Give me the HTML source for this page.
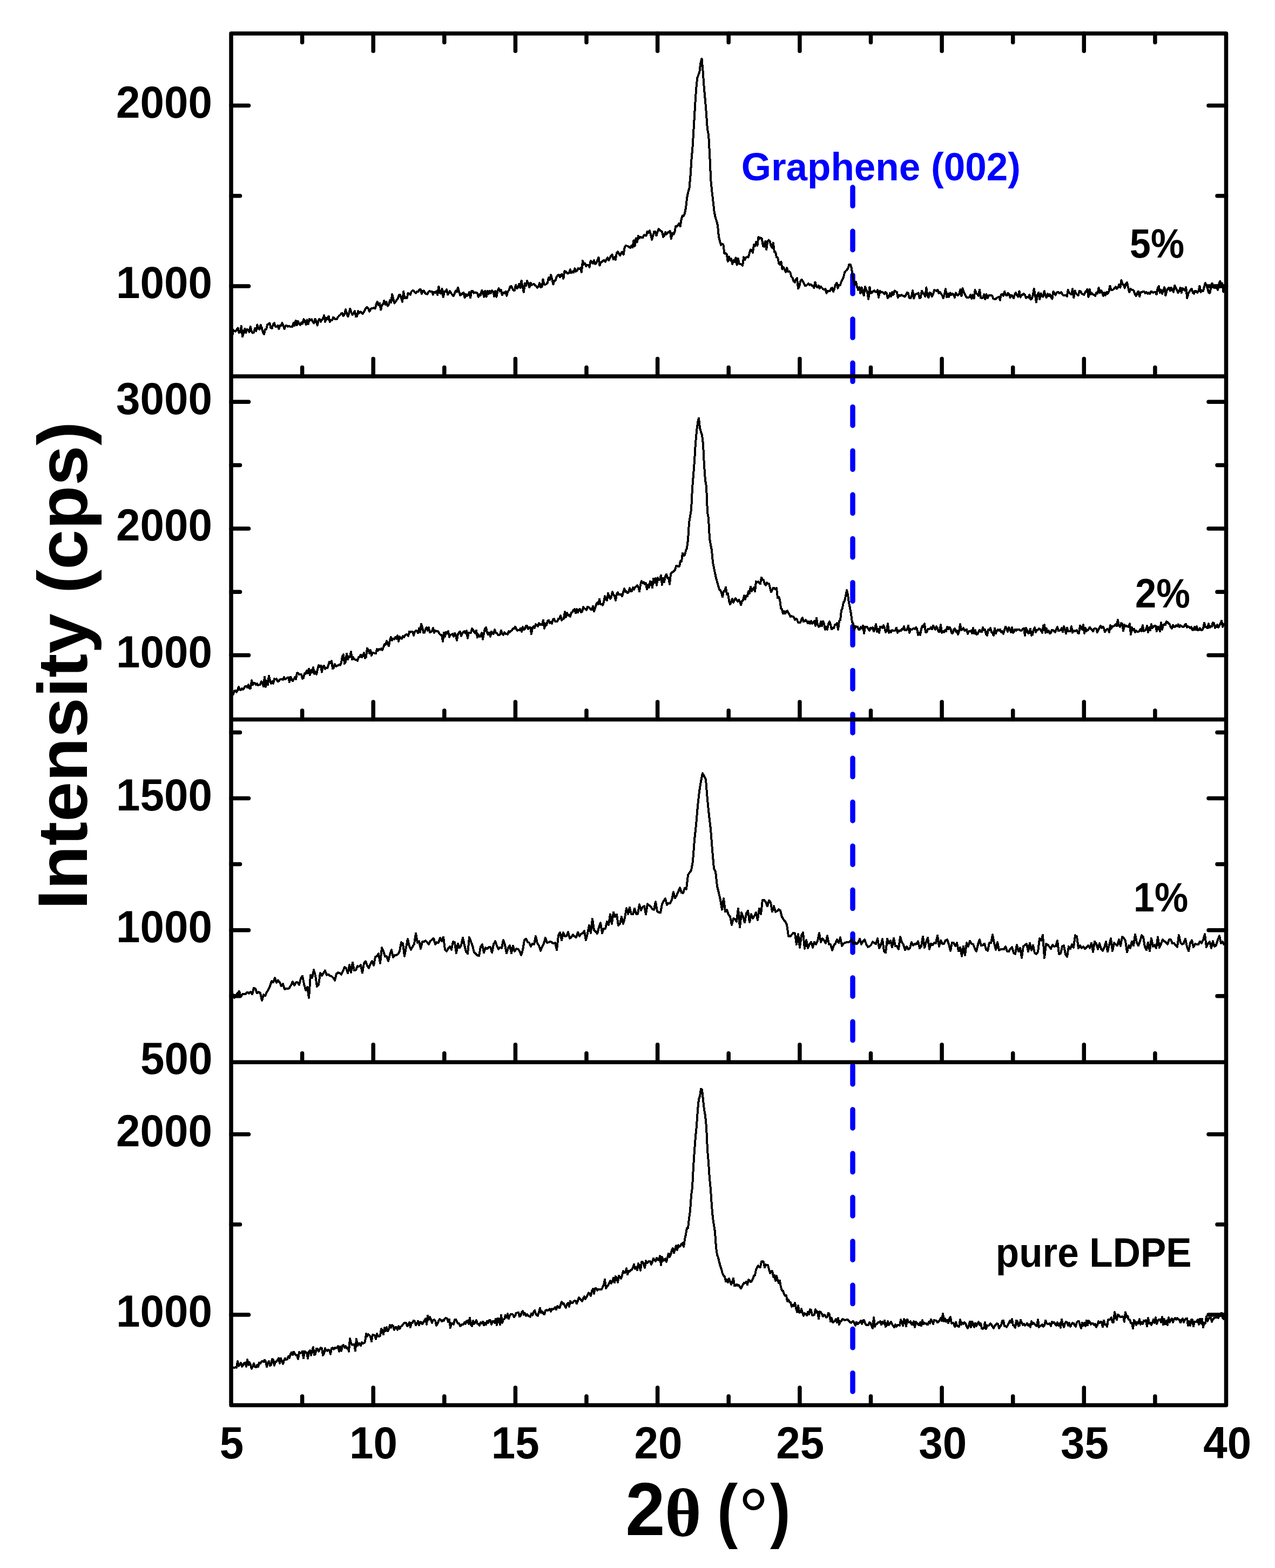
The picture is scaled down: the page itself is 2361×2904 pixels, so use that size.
<!DOCTYPE html>
<html><head><meta charset="utf-8"><title>XRD</title><style>html,body{margin:0;padding:0;background:#fff;overflow:hidden}svg{display:block}text{font-family:"Liberation Sans",Arial,sans-serif;font-weight:bold;fill:#000}</style></head><body>
<svg width="2361" height="2904" viewBox="0 0 2361 2904">
<rect x="0" y="0" width="2361" height="2904" fill="#fff"/>
<line x1="1579.0" y1="347" x2="1579.0" y2="2598" stroke="#0000ff" stroke-width="9.5" stroke-linecap="round" stroke-dasharray="34.3 47.03"/>
<path d="M428.0,610.5 430.1,621.8 432.2,611.1 434.3,613.3 436.4,613.8 438.5,610.4 440.6,607.3 442.7,616.3 444.8,614.8 446.9,603.9 449.0,623.5 451.1,617.0 453.2,608.8 455.3,616.2 457.4,609.6 459.5,611.2 461.6,614.8 463.7,605.1 465.8,613.2 467.9,616.6 470.0,615.9 472.1,608.2 474.2,613.4 476.3,601.4 478.4,607.8 480.5,610.3 482.6,601.7 484.7,607.2 486.8,615.2 488.9,618.9 491.0,610.1 493.1,610.0 495.2,601.4 497.3,599.9 499.4,598.6 501.5,607.3 503.6,608.0 505.7,601.2 507.8,598.3 509.9,605.0 512.0,605.1 514.1,602.9 516.2,609.2 518.3,602.8 520.4,602.9 522.5,598.0 524.6,603.6 526.7,609.1 528.8,603.1 530.9,603.1 533.0,604.6 535.1,603.8 537.2,604.8 539.3,604.7 541.4,604.9 543.5,598.1 545.6,602.9 547.7,593.8 549.8,602.1 551.9,594.7 554.0,599.8 556.1,602.0 558.2,597.5 560.3,599.5 562.4,591.2 564.5,594.4 566.6,601.2 568.7,592.4 570.8,600.4 572.9,590.8 575.0,592.7 577.1,591.5 579.2,596.3 581.3,598.5 583.4,590.8 585.5,594.6 587.6,602.5 589.7,593.3 591.8,590.6 593.9,595.8 596.0,592.6 598.1,589.9 600.2,584.4 602.3,595.9 604.4,589.0 606.5,591.1 608.6,585.6 610.7,596.0 612.8,592.8 614.9,593.3 617.0,587.8 619.1,589.9 621.2,591.3 623.3,591.4 625.4,587.6 627.5,585.3 629.6,583.4 631.7,581.1 633.8,579.6 635.9,585.2 638.0,581.9 640.1,573.3 642.2,581.2 644.3,586.3 646.4,579.6 648.5,571.8 650.6,579.3 652.7,582.9 654.8,579.7 656.9,576.3 659.0,586.3 661.1,586.0 663.2,576.2 665.3,579.9 667.4,577.5 669.5,578.7 671.6,581.3 673.7,577.8 675.8,574.0 677.9,570.0 680.0,568.8 682.1,571.9 684.2,576.9 686.3,572.4 688.4,570.8 690.5,571.3 692.6,569.8 694.7,571.6 696.8,563.4 698.9,558.9 701.0,565.5 703.1,561.5 705.2,573.6 707.3,564.8 709.4,563.6 711.5,556.8 713.6,564.4 715.7,559.3 717.8,566.5 719.9,564.3 722.0,555.9 724.1,560.5 726.2,545.1 728.3,553.7 730.4,561.7 732.5,558.8 734.6,555.2 736.7,553.5 738.8,546.4 740.9,545.9 743.0,552.5 745.1,558.8 747.2,540.0 749.3,552.2 751.4,551.4 753.5,552.2 755.6,543.1 757.7,543.9 759.8,545.8 761.9,540.0 764.0,538.1 766.1,538.7 768.2,541.5 770.3,542.7 772.4,540.2 774.5,540.3 776.6,536.5 778.7,536.0 780.8,544.2 782.9,538.6 785.0,538.4 787.1,543.0 789.2,544.4 791.3,544.6 793.4,540.7 795.5,538.6 797.6,540.3 799.7,539.9 801.8,545.6 803.9,540.7 806.0,542.4 808.1,539.5 810.2,546.1 812.3,530.5 814.4,541.8 816.5,543.7 818.6,535.0 820.7,550.5 822.8,540.1 824.9,540.3 827.0,536.3 829.1,545.6 831.2,542.8 833.3,539.3 835.4,543.3 837.5,545.6 839.6,548.3 841.7,543.8 843.8,538.5 845.9,540.5 848.0,532.6 850.1,539.9 852.2,546.8 854.3,545.6 856.4,543.1 858.5,542.1 860.6,551.1 862.7,545.2 864.8,548.1 866.9,545.9 869.0,541.1 871.1,551.4 873.2,538.7 875.3,539.0 877.4,542.7 879.5,541.4 881.6,542.3 883.7,542.3 885.8,549.7 887.9,545.4 890.0,546.8 892.1,537.8 894.2,541.1 896.3,549.7 898.4,538.9 900.5,549.5 902.6,538.9 904.7,544.6 906.8,539.0 908.9,543.3 911.0,537.9 913.1,540.5 915.2,549.0 917.3,539.2 919.4,549.9 921.5,538.0 923.6,534.2 925.7,539.5 927.8,536.9 929.9,546.4 932.0,541.8 934.1,542.8 936.2,539.7 938.3,547.7 940.4,539.4 942.5,537.6 944.6,530.8 946.7,529.9 948.8,534.4 950.9,537.6 953.0,537.7 955.1,527.8 957.2,534.2 959.3,532.3 961.4,526.0 963.5,533.1 965.6,520.0 967.7,531.4 969.8,541.3 971.9,524.9 974.0,529.4 976.1,520.4 978.2,525.4 980.3,532.2 982.4,523.7 984.5,528.2 986.6,526.6 988.7,526.3 990.8,528.7 992.9,529.8 995.0,533.0 997.1,530.9 999.2,524.0 1001.3,532.5 1003.4,531.1 1005.5,517.4 1007.6,526.8 1009.7,526.7 1011.8,526.4 1013.9,523.6 1016.0,514.3 1018.1,518.3 1020.2,509.3 1022.3,517.3 1024.4,526.7 1026.5,519.8 1028.6,519.7 1030.7,512.8 1032.8,509.8 1034.9,508.8 1037.0,513.5 1039.1,508.4 1041.2,508.4 1043.3,515.8 1045.4,502.1 1047.5,502.8 1049.6,505.6 1051.7,506.6 1053.8,505.6 1055.9,499.0 1058.0,505.4 1060.1,503.2 1062.2,504.6 1064.3,497.3 1066.4,502.7 1068.5,501.8 1070.6,497.1 1072.7,498.4 1074.8,496.2 1076.9,504.3 1079.0,482.9 1081.1,489.8 1083.2,487.8 1085.3,493.0 1087.4,490.6 1089.5,490.9 1091.6,495.0 1093.7,483.2 1095.8,485.8 1097.9,487.7 1100.0,482.3 1102.1,488.7 1104.2,487.7 1106.3,482.3 1108.4,476.8 1110.5,491.7 1112.6,485.9 1114.7,485.2 1116.8,483.0 1118.9,482.0 1121.0,485.2 1123.1,480.6 1125.2,477.0 1127.3,482.2 1129.4,478.2 1131.5,473.3 1133.6,471.5 1135.7,479.9 1137.8,476.2 1139.9,481.1 1142.0,468.3 1144.1,466.0 1146.2,470.0 1148.3,473.2 1150.4,468.4 1152.5,466.3 1154.6,471.7 1156.7,458.2 1158.8,454.6 1160.9,455.5 1163.0,456.0 1165.1,457.7 1167.2,459.2 1169.3,454.8 1171.4,458.1 1173.5,445.3 1175.6,455.8 1177.7,441.3 1179.8,448.5 1181.9,437.0 1184.0,441.3 1186.1,438.7 1188.2,439.9 1190.3,440.4 1192.4,435.4 1194.5,435.6 1196.6,436.6 1198.7,429.1 1200.8,431.4 1202.9,427.0 1205.0,434.2 1207.1,444.0 1209.2,436.8 1211.3,429.0 1213.4,429.1 1215.5,436.4 1217.6,429.3 1219.7,423.8 1221.8,426.8 1223.9,427.7 1226.0,429.4 1228.1,438.7 1230.2,436.7 1232.3,429.6 1234.4,433.7 1236.5,430.5 1238.6,429.7 1240.7,427.7 1242.8,442.0 1244.9,431.7 1247.0,434.5 1249.1,430.8 1251.2,418.8 1253.3,419.3 1255.4,417.2 1257.5,413.6 1259.6,419.3 1261.7,406.2 1263.8,399.4 1265.9,399.9 1268.0,395.0 1270.1,384.7 1272.2,366.2 1274.3,355.8 1276.4,348.8 1278.5,325.7 1280.6,293.9 1282.7,269.9 1284.8,234.8 1286.9,199.0 1289.0,166.3 1291.1,145.1 1293.2,138.8 1295.3,133.5 1297.4,116.3 1299.5,108.6 1301.6,131.8 1303.7,161.7 1305.8,184.5 1307.9,210.1 1310.0,239.5 1312.1,249.5 1314.2,287.5 1316.3,334.0 1318.4,354.9 1320.5,372.8 1322.6,392.1 1324.7,402.4 1326.8,408.7 1328.9,416.9 1331.0,438.4 1333.1,446.9 1335.2,453.9 1337.3,452.0 1339.4,452.7 1341.5,469.6 1343.6,469.1 1345.7,471.2 1347.8,484.5 1349.9,475.4 1352.0,481.7 1354.1,478.9 1356.2,489.1 1358.3,481.7 1360.4,484.9 1362.5,477.5 1364.6,490.5 1366.7,479.0 1368.8,488.1 1370.9,489.0 1373.0,489.6 1375.1,491.7 1377.2,476.3 1379.3,481.1 1381.4,477.1 1383.5,475.7 1385.6,476.5 1387.7,469.4 1389.8,462.5 1391.9,463.2 1394.0,468.0 1396.1,452.7 1398.2,455.7 1400.3,447.9 1402.4,454.7 1404.5,439.1 1406.6,441.9 1408.7,440.5 1410.8,441.6 1412.9,455.7 1415.0,456.6 1417.1,446.9 1419.2,462.2 1421.3,447.2 1423.4,444.4 1425.5,446.5 1427.6,455.1 1429.7,458.7 1431.8,449.7 1433.9,466.2 1436.0,467.3 1438.1,476.4 1440.2,477.6 1442.3,488.2 1444.4,490.2 1446.5,484.6 1448.6,498.7 1450.7,494.8 1452.8,499.1 1454.9,503.8 1457.0,496.1 1459.1,503.0 1461.2,502.4 1463.3,504.4 1465.4,512.2 1467.5,514.5 1469.6,520.8 1471.7,522.7 1473.8,517.7 1475.9,515.1 1478.0,534.6 1480.1,530.6 1482.2,520.9 1484.3,517.7 1486.4,520.7 1488.5,524.5 1490.6,529.1 1492.7,529.1 1494.8,527.4 1496.9,525.1 1499.0,527.8 1501.1,526.5 1503.2,529.1 1505.3,529.1 1507.4,532.9 1509.5,522.7 1511.6,530.8 1513.7,532.0 1515.8,529.0 1517.9,534.1 1520.0,530.7 1522.1,533.1 1524.2,535.4 1526.3,536.0 1528.4,535.0 1530.5,543.0 1532.6,539.0 1534.7,539.5 1536.8,538.9 1538.9,534.4 1541.0,533.0 1543.1,540.3 1545.2,534.2 1547.3,527.0 1549.4,524.0 1551.5,533.8 1553.6,527.6 1555.7,528.3 1557.8,522.1 1559.9,518.0 1562.0,513.1 1564.1,504.4 1566.2,501.7 1568.3,500.0 1570.4,496.5 1572.5,489.8 1574.6,489.6 1576.7,496.2 1578.8,509.9 1580.9,520.2 1583.0,528.2 1585.1,522.3 1587.2,532.1 1589.3,536.8 1591.4,531.9 1593.5,543.4 1595.6,532.3 1597.7,541.2 1599.8,547.2 1601.9,531.2 1604.0,536.3 1606.1,541.1 1608.2,553.9 1610.3,531.5 1612.4,543.0 1614.5,542.3 1616.6,539.6 1618.7,538.2 1620.8,540.1 1622.9,541.5 1625.0,537.4 1627.1,550.7 1629.2,538.5 1631.3,541.8 1633.4,540.8 1635.5,542.1 1637.6,544.5 1639.7,540.7 1641.8,543.2 1643.9,552.3 1646.0,549.3 1648.1,543.2 1650.2,548.8 1652.3,541.1 1654.4,545.8 1656.5,538.3 1658.6,539.8 1660.7,541.2 1662.8,551.0 1664.9,546.5 1667.0,548.1 1669.1,546.4 1671.2,547.5 1673.3,547.9 1675.4,549.6 1677.5,546.9 1679.6,542.0 1681.7,542.6 1683.8,551.7 1685.9,552.5 1688.0,548.4 1690.1,538.0 1692.2,552.6 1694.3,546.5 1696.4,544.4 1698.5,544.5 1700.6,542.4 1702.7,552.0 1704.8,551.4 1706.9,538.6 1709.0,542.6 1711.1,544.9 1713.2,549.4 1715.3,532.3 1717.4,547.8 1719.5,551.2 1721.6,542.0 1723.7,543.3 1725.8,549.2 1727.9,545.2 1730.0,537.3 1732.1,538.1 1734.2,538.7 1736.3,536.9 1738.4,543.4 1740.5,541.1 1742.6,543.7 1744.7,546.9 1746.8,552.0 1748.9,544.8 1751.0,535.4 1753.1,550.5 1755.2,543.7 1757.3,549.7 1759.4,542.4 1761.5,546.0 1763.6,544.1 1765.7,544.8 1767.8,551.0 1769.9,542.4 1772.0,546.4 1774.1,546.9 1776.2,544.4 1778.3,536.3 1780.4,548.3 1782.5,533.9 1784.6,540.2 1786.7,545.2 1788.8,549.4 1790.9,551.4 1793.0,551.3 1795.1,550.2 1797.2,545.8 1799.3,553.1 1801.4,546.3 1803.5,552.7 1805.6,537.2 1807.7,543.2 1809.8,544.9 1811.9,547.6 1814.0,536.6 1816.1,551.3 1818.2,552.2 1820.3,551.2 1822.4,545.2 1824.5,554.3 1826.6,545.1 1828.7,551.8 1830.8,547.4 1832.9,547.5 1835.0,546.9 1837.1,547.5 1839.2,552.8 1841.3,554.3 1843.4,554.2 1845.5,551.8 1847.6,550.7 1849.7,549.7 1851.8,555.7 1853.9,545.6 1856.0,544.7 1858.1,547.9 1860.2,539.9 1862.3,546.5 1864.4,547.4 1866.5,542.9 1868.6,545.0 1870.7,550.8 1872.8,546.6 1874.9,548.0 1877.0,552.4 1879.1,544.8 1881.2,542.4 1883.3,547.4 1885.4,549.6 1887.5,539.3 1889.6,550.7 1891.7,546.2 1893.8,545.7 1895.9,543.7 1898.0,546.8 1900.1,552.0 1902.2,550.0 1904.3,551.2 1906.4,545.8 1908.5,554.7 1910.6,553.2 1912.7,547.1 1914.8,535.0 1916.9,547.3 1919.0,559.6 1921.1,546.5 1923.2,541.9 1925.3,554.3 1927.4,543.5 1929.5,548.5 1931.6,549.6 1933.7,539.2 1935.8,546.4 1937.9,551.2 1940.0,544.0 1942.1,548.4 1944.2,545.2 1946.3,549.9 1948.4,553.5 1950.5,539.8 1952.6,543.5 1954.7,546.5 1956.8,541.7 1958.9,540.6 1961.0,542.7 1963.1,542.9 1965.2,541.0 1967.3,545.4 1969.4,547.5 1971.5,547.1 1973.6,546.6 1975.7,548.9 1977.8,536.9 1979.9,542.6 1982.0,543.8 1984.1,545.3 1986.2,535.3 1988.3,551.2 1990.4,538.4 1992.5,543.6 1994.6,545.7 1996.7,547.2 1998.8,539.0 2000.9,539.6 2003.0,543.7 2005.1,544.6 2007.2,546.1 2009.3,541.6 2011.4,538.7 2013.5,535.8 2015.6,549.9 2017.7,535.6 2019.8,545.1 2021.9,543.2 2024.0,545.4 2026.1,546.3 2028.2,548.1 2030.3,541.6 2032.4,543.7 2034.5,532.9 2036.6,542.1 2038.7,537.7 2040.8,541.2 2042.9,547.6 2045.0,542.4 2047.1,546.9 2049.2,541.0 2051.3,543.8 2053.4,540.0 2055.5,529.7 2057.6,536.7 2059.7,536.7 2061.8,536.4 2063.9,533.4 2066.0,530.9 2068.1,534.8 2070.2,532.6 2072.3,527.3 2074.4,532.6 2076.5,519.0 2078.6,526.5 2080.7,526.9 2082.8,533.5 2084.9,525.8 2087.0,522.9 2089.1,532.4 2091.2,541.5 2093.3,534.7 2095.4,536.6 2097.5,536.9 2099.6,538.6 2101.7,544.9 2103.8,548.4 2105.9,542.0 2108.0,539.7 2110.1,549.1 2112.2,541.4 2114.3,541.5 2116.4,539.8 2118.5,540.2 2120.6,542.9 2122.7,540.6 2124.8,543.9 2126.9,542.4 2129.0,544.4 2131.1,539.9 2133.2,540.5 2135.3,542.2 2137.4,541.1 2139.5,540.8 2141.6,545.3 2143.7,534.6 2145.8,530.2 2147.9,542.0 2150.0,537.2 2152.1,544.2 2154.2,537.3 2156.3,532.1 2158.4,547.3 2160.5,538.7 2162.6,534.5 2164.7,532.9 2166.8,538.6 2168.9,532.7 2171.0,537.3 2173.1,540.7 2175.2,528.7 2177.3,533.3 2179.4,537.1 2181.5,542.4 2183.6,539.0 2185.7,532.8 2187.8,541.9 2189.9,533.9 2192.0,535.3 2194.1,538.4 2196.2,532.2 2198.3,552.0 2200.4,544.0 2202.5,540.1 2204.6,537.0 2206.7,534.7 2208.8,542.1 2210.9,543.7 2213.0,538.7 2215.1,539.4 2217.2,542.4 2219.3,539.0 2221.4,530.0 2223.5,540.8 2225.6,538.0 2227.7,539.3 2229.8,531.6 2231.9,524.4 2234.0,527.7 2236.1,534.1 2238.2,541.8 2240.3,542.7 2242.4,533.1 2244.5,524.8 2246.6,529.8 2248.7,533.2 2250.8,533.1 2252.9,531.4 2255.0,537.0 2257.1,526.6 2259.2,520.6 2261.3,526.5 2263.4,525.1 2265.5,540.7 2267.6,529.6" fill="none" stroke="#000" stroke-width="4.0" stroke-linejoin="round" shape-rendering="crispEdges"/>
<path d="M428.0,1281.7 430.0,1287.2 432.0,1285.7 434.0,1279.6 436.0,1279.0 438.0,1281.6 440.0,1278.4 442.0,1272.2 444.0,1277.2 446.0,1278.0 448.0,1274.9 450.0,1276.7 452.0,1274.9 454.0,1270.8 456.0,1270.7 458.0,1273.5 460.0,1267.9 462.0,1275.0 464.0,1274.8 466.0,1260.1 468.0,1268.4 470.0,1265.0 472.0,1265.2 474.0,1268.3 476.0,1266.5 478.0,1269.4 480.0,1268.0 482.0,1267.8 484.0,1262.3 486.0,1263.8 488.0,1271.4 490.0,1253.6 492.0,1271.7 494.0,1261.2 496.0,1268.5 498.0,1251.5 500.0,1260.6 502.0,1265.8 504.0,1262.4 506.0,1265.8 508.0,1257.1 510.0,1258.1 512.0,1257.4 514.0,1262.2 516.0,1261.7 518.0,1258.8 520.0,1257.9 522.0,1257.5 524.0,1258.9 526.0,1254.1 528.0,1257.8 530.0,1257.1 532.0,1255.0 534.0,1254.6 536.0,1263.2 538.0,1253.6 540.0,1257.7 542.0,1261.4 544.0,1258.0 546.0,1254.2 548.0,1257.9 550.0,1246.4 552.0,1246.5 554.0,1249.4 556.0,1249.3 558.0,1249.1 560.0,1257.0 562.0,1255.4 564.0,1247.1 566.0,1247.7 568.0,1241.9 570.0,1246.7 572.0,1238.7 574.0,1250.2 576.0,1241.1 578.0,1245.3 580.0,1236.4 582.0,1247.7 584.0,1243.7 586.0,1249.0 588.0,1240.1 590.0,1232.2 592.0,1235.3 594.0,1232.7 596.0,1244.6 598.0,1234.4 600.0,1233.4 602.0,1238.8 604.0,1236.9 606.0,1237.5 608.0,1232.6 610.0,1225.6 612.0,1227.9 614.0,1223.8 616.0,1238.5 618.0,1236.4 620.0,1230.1 622.0,1233.9 624.0,1233.4 626.0,1232.4 628.0,1231.0 630.0,1231.6 632.0,1227.1 634.0,1215.9 636.0,1212.4 638.0,1229.1 640.0,1225.2 642.0,1210.6 644.0,1221.5 646.0,1216.1 648.0,1216.8 650.0,1207.2 652.0,1221.6 654.0,1217.4 656.0,1221.0 658.0,1221.8 660.0,1222.3 662.0,1223.6 664.0,1217.3 666.0,1216.7 668.0,1212.6 670.0,1217.3 672.0,1213.5 674.0,1209.0 676.0,1218.9 678.0,1216.2 680.0,1200.5 682.0,1203.4 684.0,1209.7 686.0,1203.9 688.0,1214.2 690.0,1208.5 692.0,1209.2 694.0,1209.7 696.0,1210.3 698.0,1202.0 700.0,1204.9 702.0,1202.1 704.0,1203.4 706.0,1201.2 708.0,1203.8 710.0,1198.7 712.0,1192.9 714.0,1194.2 716.0,1187.3 718.0,1192.4 720.0,1196.3 722.0,1185.7 724.0,1179.8 726.0,1185.6 728.0,1182.6 730.0,1183.9 732.0,1180.4 734.0,1182.6 736.0,1177.1 738.0,1187.8 740.0,1179.3 742.0,1182.1 744.0,1182.6 746.0,1178.1 748.0,1180.3 750.0,1176.7 752.0,1175.2 754.0,1175.6 756.0,1178.2 758.0,1169.7 760.0,1170.6 762.0,1170.1 764.0,1170.1 766.0,1176.6 768.0,1170.2 770.0,1167.9 772.0,1169.0 774.0,1172.4 776.0,1163.8 778.0,1171.1 780.0,1155.7 782.0,1161.6 784.0,1171.6 786.0,1171.6 788.0,1165.3 790.0,1162.4 792.0,1167.8 794.0,1162.4 796.0,1171.3 798.0,1170.3 800.0,1169.2 802.0,1163.0 804.0,1172.0 806.0,1167.6 808.0,1168.6 810.0,1168.7 812.0,1170.8 814.0,1174.1 816.0,1176.0 818.0,1176.3 820.0,1187.9 822.0,1171.7 824.0,1178.6 826.0,1170.8 828.0,1173.1 830.0,1169.0 832.0,1179.7 834.0,1175.7 836.0,1175.3 838.0,1174.3 840.0,1178.9 842.0,1172.7 844.0,1176.7 846.0,1185.9 848.0,1174.0 850.0,1171.7 852.0,1169.7 854.0,1177.6 856.0,1174.0 858.0,1170.1 860.0,1169.4 862.0,1173.0 864.0,1168.2 866.0,1181.7 868.0,1171.5 870.0,1171.5 872.0,1171.9 874.0,1164.3 876.0,1166.1 878.0,1171.0 880.0,1172.7 882.0,1167.5 884.0,1180.6 886.0,1175.3 888.0,1179.0 890.0,1178.5 892.0,1172.3 894.0,1183.9 896.0,1173.4 898.0,1164.2 900.0,1161.9 902.0,1171.9 904.0,1175.4 906.0,1171.6 908.0,1178.7 910.0,1169.6 912.0,1173.4 914.0,1174.1 916.0,1166.3 918.0,1172.2 920.0,1172.5 922.0,1175.7 924.0,1176.2 926.0,1175.2 928.0,1167.5 930.0,1174.1 932.0,1175.6 934.0,1171.0 936.0,1173.9 938.0,1173.6 940.0,1174.9 942.0,1169.4 944.0,1170.6 946.0,1168.6 948.0,1167.4 950.0,1163.8 952.0,1164.5 954.0,1160.6 956.0,1164.3 958.0,1167.9 960.0,1167.2 962.0,1167.5 964.0,1163.5 966.0,1169.8 968.0,1161.4 970.0,1166.5 972.0,1164.7 974.0,1159.2 976.0,1159.1 978.0,1165.1 980.0,1161.6 982.0,1162.2 984.0,1174.2 986.0,1162.7 988.0,1160.3 990.0,1162.6 992.0,1156.3 994.0,1157.8 996.0,1160.1 998.0,1154.2 1000.0,1157.3 1002.0,1156.2 1004.0,1157.2 1006.0,1148.6 1008.0,1163.8 1010.0,1155.3 1012.0,1157.7 1014.0,1150.3 1016.0,1148.6 1018.0,1153.9 1020.0,1151.7 1022.0,1155.2 1024.0,1147.3 1026.0,1146.0 1028.0,1150.7 1030.0,1151.2 1032.0,1151.0 1034.0,1145.7 1036.0,1145.9 1038.0,1140.2 1040.0,1148.6 1042.0,1146.9 1044.0,1145.9 1046.0,1133.1 1048.0,1143.2 1050.0,1135.3 1052.0,1139.9 1054.0,1138.9 1056.0,1141.6 1058.0,1134.7 1060.0,1133.3 1062.0,1129.7 1064.0,1128.2 1066.0,1135.3 1068.0,1128.1 1070.0,1134.4 1072.0,1129.2 1074.0,1127.8 1076.0,1133.9 1078.0,1132.9 1080.0,1124.3 1082.0,1127.4 1084.0,1127.6 1086.0,1130.2 1088.0,1123.7 1090.0,1124.8 1092.0,1125.8 1094.0,1129.0 1096.0,1129.5 1098.0,1122.8 1100.0,1132.4 1102.0,1126.0 1104.0,1120.0 1106.0,1115.8 1108.0,1119.2 1110.0,1109.5 1112.0,1119.2 1114.0,1119.1 1116.0,1120.6 1118.0,1115.5 1120.0,1104.2 1122.0,1109.1 1124.0,1112.2 1126.0,1098.6 1128.0,1103.6 1130.0,1109.1 1132.0,1105.8 1134.0,1096.0 1136.0,1101.8 1138.0,1103.4 1140.0,1111.7 1142.0,1099.9 1144.0,1097.1 1146.0,1101.4 1148.0,1101.0 1150.0,1101.3 1152.0,1104.3 1154.0,1096.9 1156.0,1090.4 1158.0,1095.8 1160.0,1094.9 1162.0,1098.3 1164.0,1096.9 1166.0,1089.1 1168.0,1094.8 1170.0,1094.8 1172.0,1088.4 1174.0,1092.2 1176.0,1087.6 1178.0,1086.4 1180.0,1083.9 1182.0,1087.0 1184.0,1095.2 1186.0,1082.8 1188.0,1076.2 1190.0,1080.0 1192.0,1078.2 1194.0,1082.0 1196.0,1079.8 1198.0,1091.4 1200.0,1083.4 1202.0,1088.1 1204.0,1076.7 1206.0,1078.7 1208.0,1088.4 1210.0,1071.7 1212.0,1079.3 1214.0,1071.2 1216.0,1083.9 1218.0,1070.0 1220.0,1073.9 1222.0,1073.4 1224.0,1065.8 1226.0,1083.1 1228.0,1070.7 1230.0,1078.0 1232.0,1067.3 1234.0,1063.5 1236.0,1070.7 1238.0,1070.2 1240.0,1081.8 1242.0,1063.5 1244.0,1059.9 1246.0,1059.6 1248.0,1057.8 1250.0,1055.6 1252.0,1048.0 1254.0,1047.9 1256.0,1049.5 1258.0,1049.2 1260.0,1039.0 1262.0,1039.8 1264.0,1024.6 1266.0,1029.5 1268.0,1028.2 1270.0,1019.7 1272.0,1015.1 1274.0,999.8 1276.0,967.8 1278.0,956.4 1280.0,943.9 1282.0,904.8 1284.0,879.2 1286.0,853.5 1288.0,820.5 1290.0,798.3 1292.0,782.8 1294.0,774.5 1296.0,793.1 1298.0,799.7 1300.0,806.1 1302.0,822.6 1304.0,862.3 1306.0,889.7 1308.0,900.8 1310.0,949.0 1312.0,960.0 1314.0,997.3 1316.0,1009.0 1318.0,1019.1 1320.0,1041.6 1322.0,1051.6 1324.0,1061.2 1326.0,1071.0 1328.0,1077.4 1330.0,1085.1 1332.0,1091.4 1334.0,1093.3 1336.0,1097.7 1338.0,1105.4 1340.0,1095.1 1342.0,1094.1 1344.0,1087.5 1346.0,1101.1 1348.0,1099.2 1350.0,1112.6 1352.0,1119.2 1354.0,1114.9 1356.0,1109.3 1358.0,1115.9 1360.0,1111.1 1362.0,1108.3 1364.0,1111.0 1366.0,1114.0 1368.0,1110.8 1370.0,1114.1 1372.0,1120.5 1374.0,1112.9 1376.0,1111.9 1378.0,1103.4 1380.0,1109.8 1382.0,1103.2 1384.0,1104.3 1386.0,1095.2 1388.0,1098.8 1390.0,1086.7 1392.0,1094.6 1394.0,1091.3 1396.0,1088.5 1398.0,1095.3 1400.0,1076.9 1402.0,1078.3 1404.0,1077.1 1406.0,1079.6 1408.0,1081.3 1410.0,1069.6 1412.0,1074.3 1414.0,1074.2 1416.0,1081.5 1418.0,1083.9 1420.0,1079.4 1422.0,1080.7 1424.0,1080.8 1426.0,1089.0 1428.0,1096.5 1430.0,1092.3 1432.0,1088.7 1434.0,1089.3 1436.0,1091.4 1438.0,1089.3 1440.0,1107.2 1442.0,1105.6 1444.0,1110.3 1446.0,1126.2 1448.0,1128.2 1450.0,1136.5 1452.0,1132.1 1454.0,1136.4 1456.0,1132.3 1458.0,1131.0 1460.0,1135.3 1462.0,1138.3 1464.0,1142.4 1466.0,1141.2 1468.0,1141.8 1470.0,1143.4 1472.0,1147.8 1474.0,1145.7 1476.0,1147.7 1478.0,1152.6 1480.0,1153.4 1482.0,1153.3 1484.0,1147.6 1486.0,1144.2 1488.0,1151.4 1490.0,1150.3 1492.0,1148.0 1494.0,1150.8 1496.0,1154.4 1498.0,1151.0 1500.0,1155.1 1502.0,1150.4 1504.0,1154.8 1506.0,1152.8 1508.0,1150.4 1510.0,1158.9 1512.0,1144.6 1514.0,1157.0 1516.0,1160.9 1518.0,1159.4 1520.0,1151.1 1522.0,1159.4 1524.0,1150.7 1526.0,1155.4 1528.0,1166.1 1530.0,1161.0 1532.0,1165.7 1534.0,1155.7 1536.0,1151.2 1538.0,1156.8 1540.0,1165.4 1542.0,1163.3 1544.0,1163.4 1546.0,1157.4 1548.0,1156.7 1550.0,1154.5 1552.0,1165.7 1554.0,1150.0 1556.0,1148.3 1558.0,1131.1 1560.0,1125.9 1562.0,1115.5 1564.0,1113.0 1566.0,1103.9 1568.0,1093.2 1570.0,1101.4 1572.0,1116.6 1574.0,1125.9 1576.0,1137.2 1578.0,1152.5 1580.0,1155.0 1582.0,1166.6 1584.0,1159.9 1586.0,1160.6 1588.0,1160.6 1590.0,1165.8 1592.0,1165.7 1594.0,1161.0 1596.0,1164.1 1598.0,1158.6 1600.0,1172.7 1602.0,1160.8 1604.0,1160.6 1606.0,1161.3 1608.0,1165.0 1610.0,1167.6 1612.0,1162.6 1614.0,1164.1 1616.0,1162.3 1618.0,1169.4 1620.0,1164.6 1622.0,1156.0 1624.0,1169.9 1626.0,1164.8 1628.0,1171.8 1630.0,1160.7 1632.0,1161.4 1634.0,1163.1 1636.0,1158.0 1638.0,1163.0 1640.0,1170.6 1642.0,1168.6 1644.0,1155.3 1646.0,1172.0 1648.0,1168.3 1650.0,1170.6 1652.0,1167.4 1654.0,1168.2 1656.0,1167.6 1658.0,1167.5 1660.0,1162.7 1662.0,1171.7 1664.0,1168.0 1666.0,1168.6 1668.0,1168.3 1670.0,1165.2 1672.0,1166.2 1674.0,1160.4 1676.0,1167.4 1678.0,1167.4 1680.0,1165.0 1682.0,1158.5 1684.0,1172.0 1686.0,1165.4 1688.0,1166.1 1690.0,1165.0 1692.0,1163.8 1694.0,1164.8 1696.0,1161.8 1698.0,1164.3 1700.0,1176.1 1702.0,1172.4 1704.0,1176.1 1706.0,1164.6 1708.0,1159.0 1710.0,1161.3 1712.0,1155.3 1714.0,1171.0 1716.0,1170.7 1718.0,1164.8 1720.0,1165.1 1722.0,1164.3 1724.0,1161.7 1726.0,1165.5 1728.0,1158.7 1730.0,1162.7 1732.0,1165.7 1734.0,1160.1 1736.0,1163.7 1738.0,1170.1 1740.0,1169.6 1742.0,1157.0 1744.0,1171.8 1746.0,1169.1 1748.0,1170.7 1750.0,1166.8 1752.0,1169.4 1754.0,1160.9 1756.0,1165.5 1758.0,1161.6 1760.0,1163.9 1762.0,1171.2 1764.0,1173.2 1766.0,1166.2 1768.0,1164.2 1770.0,1169.6 1772.0,1168.3 1774.0,1174.9 1776.0,1169.3 1778.0,1156.3 1780.0,1167.0 1782.0,1165.5 1784.0,1163.5 1786.0,1167.7 1788.0,1167.5 1790.0,1165.8 1792.0,1174.1 1794.0,1169.2 1796.0,1169.4 1798.0,1168.4 1800.0,1173.2 1802.0,1163.1 1804.0,1173.4 1806.0,1167.1 1808.0,1174.8 1810.0,1174.6 1812.0,1170.7 1814.0,1166.6 1816.0,1169.9 1818.0,1170.3 1820.0,1162.4 1822.0,1167.5 1824.0,1165.9 1826.0,1175.1 1828.0,1176.6 1830.0,1166.0 1832.0,1166.9 1834.0,1163.4 1836.0,1170.4 1838.0,1172.8 1840.0,1177.1 1842.0,1163.6 1844.0,1173.3 1846.0,1168.5 1848.0,1166.0 1850.0,1167.6 1852.0,1165.7 1854.0,1170.9 1856.0,1168.9 1858.0,1174.0 1860.0,1166.5 1862.0,1160.5 1864.0,1164.3 1866.0,1170.0 1868.0,1162.0 1870.0,1165.1 1872.0,1170.7 1874.0,1162.2 1876.0,1171.9 1878.0,1169.6 1880.0,1165.5 1882.0,1167.8 1884.0,1165.8 1886.0,1166.2 1888.0,1166.4 1890.0,1167.9 1892.0,1167.4 1894.0,1164.5 1896.0,1163.5 1898.0,1176.9 1900.0,1163.0 1902.0,1167.1 1904.0,1173.1 1906.0,1172.2 1908.0,1164.6 1910.0,1176.6 1912.0,1175.5 1914.0,1166.4 1916.0,1162.4 1918.0,1170.6 1920.0,1167.0 1922.0,1166.5 1924.0,1164.3 1926.0,1165.2 1928.0,1168.5 1930.0,1171.7 1932.0,1158.7 1934.0,1157.4 1936.0,1172.0 1938.0,1164.1 1940.0,1170.8 1942.0,1168.3 1944.0,1173.3 1946.0,1171.8 1948.0,1166.6 1950.0,1167.1 1952.0,1169.2 1954.0,1171.1 1956.0,1165.0 1958.0,1161.1 1960.0,1168.2 1962.0,1167.6 1964.0,1167.0 1966.0,1163.3 1968.0,1170.3 1970.0,1160.0 1972.0,1165.5 1974.0,1173.2 1976.0,1162.6 1978.0,1169.3 1980.0,1169.4 1982.0,1169.2 1984.0,1159.9 1986.0,1171.6 1988.0,1167.8 1990.0,1169.2 1992.0,1168.3 1994.0,1167.2 1996.0,1172.2 1998.0,1173.1 2000.0,1158.6 2002.0,1163.2 2004.0,1165.8 2006.0,1157.0 2008.0,1172.9 2010.0,1162.9 2012.0,1168.7 2014.0,1167.2 2016.0,1165.2 2018.0,1161.6 2020.0,1164.4 2022.0,1166.3 2024.0,1169.3 2026.0,1164.8 2028.0,1163.9 2030.0,1164.5 2032.0,1171.2 2034.0,1166.6 2036.0,1162.2 2038.0,1159.5 2040.0,1163.1 2042.0,1160.8 2044.0,1162.8 2046.0,1170.4 2048.0,1167.2 2050.0,1165.0 2052.0,1165.5 2054.0,1171.1 2056.0,1157.9 2058.0,1163.8 2060.0,1159.7 2062.0,1160.0 2064.0,1158.6 2066.0,1156.1 2068.0,1159.5 2070.0,1147.8 2072.0,1158.8 2074.0,1161.0 2076.0,1154.4 2078.0,1155.0 2080.0,1168.5 2082.0,1157.0 2084.0,1160.0 2086.0,1159.1 2088.0,1160.5 2090.0,1160.9 2092.0,1155.1 2094.0,1175.2 2096.0,1161.8 2098.0,1166.6 2100.0,1164.6 2102.0,1170.8 2104.0,1168.0 2106.0,1169.9 2108.0,1170.1 2110.0,1168.6 2112.0,1165.1 2114.0,1168.9 2116.0,1158.0 2118.0,1168.8 2120.0,1168.0 2122.0,1166.3 2124.0,1159.1 2126.0,1170.8 2128.0,1161.9 2130.0,1167.3 2132.0,1156.1 2134.0,1163.0 2136.0,1160.4 2138.0,1159.2 2140.0,1159.1 2142.0,1169.2 2144.0,1160.7 2146.0,1161.8 2148.0,1169.2 2150.0,1153.2 2152.0,1165.9 2154.0,1157.5 2156.0,1156.4 2158.0,1157.3 2160.0,1151.2 2162.0,1152.4 2164.0,1154.2 2166.0,1156.7 2168.0,1162.2 2170.0,1163.9 2172.0,1157.5 2174.0,1160.7 2176.0,1161.0 2178.0,1158.1 2180.0,1160.1 2182.0,1156.5 2184.0,1161.5 2186.0,1158.3 2188.0,1159.7 2190.0,1161.0 2192.0,1161.0 2194.0,1157.8 2196.0,1155.6 2198.0,1161.8 2200.0,1160.2 2202.0,1161.0 2204.0,1163.3 2206.0,1161.1 2208.0,1166.5 2210.0,1166.6 2212.0,1161.0 2214.0,1166.4 2216.0,1160.4 2218.0,1167.5 2220.0,1166.7 2222.0,1163.5 2224.0,1167.0 2226.0,1167.1 2228.0,1164.0 2230.0,1153.5 2232.0,1161.5 2234.0,1161.3 2236.0,1163.5 2238.0,1155.2 2240.0,1162.3 2242.0,1160.4 2244.0,1160.4 2246.0,1152.9 2248.0,1154.3 2250.0,1162.8 2252.0,1161.3 2254.0,1157.1 2256.0,1162.0 2258.0,1158.2 2260.0,1155.0 2262.0,1149.7 2264.0,1160.9 2266.0,1155.7 2268.0,1157.3" fill="none" stroke="#000" stroke-width="4.0" stroke-linejoin="round" shape-rendering="crispEdges"/>
<path d="M428.0,1831.7 431.0,1841.5 434.0,1847.9 437.0,1843.3 440.0,1839.2 443.0,1835.8 446.0,1846.0 449.0,1841.1 452.0,1840.9 455.0,1840.9 458.0,1837.6 461.0,1839.7 464.0,1836.9 467.0,1841.4 470.0,1829.7 473.0,1831.2 476.0,1839.5 479.0,1837.3 482.0,1839.1 485.0,1853.1 488.0,1842.3 491.0,1844.4 494.0,1837.8 497.0,1832.6 500.0,1826.3 503.0,1816.9 506.0,1819.5 509.0,1811.3 512.0,1820.1 515.0,1815.5 518.0,1819.6 521.0,1826.3 524.0,1822.3 527.0,1831.8 530.0,1831.2 533.0,1831.5 536.0,1829.6 539.0,1824.4 542.0,1817.9 545.0,1825.2 548.0,1819.4 551.0,1819.5 554.0,1824.1 557.0,1812.0 560.0,1807.5 563.0,1822.6 566.0,1833.7 569.0,1827.9 572.0,1847.9 575.0,1806.0 578.0,1810.8 581.0,1796.4 584.0,1806.6 587.0,1827.2 590.0,1823.9 593.0,1802.1 596.0,1806.8 599.0,1802.2 602.0,1797.5 605.0,1805.7 608.0,1804.5 611.0,1807.3 614.0,1808.1 617.0,1811.0 620.0,1815.6 623.0,1803.4 626.0,1801.4 629.0,1802.2 632.0,1804.6 635.0,1798.9 638.0,1790.9 641.0,1793.5 644.0,1802.4 647.0,1787.3 650.0,1800.9 653.0,1782.5 656.0,1797.5 659.0,1796.5 662.0,1789.3 665.0,1789.9 668.0,1787.4 671.0,1801.6 674.0,1783.9 677.0,1780.5 680.0,1788.2 683.0,1792.8 686.0,1785.3 689.0,1780.2 692.0,1788.1 695.0,1772.5 698.0,1770.9 701.0,1765.9 704.0,1783.8 707.0,1755.3 710.0,1761.0 713.0,1771.6 716.0,1771.2 719.0,1780.1 722.0,1768.2 725.0,1759.4 728.0,1772.8 731.0,1769.1 734.0,1768.7 737.0,1767.0 740.0,1761.6 743.0,1745.3 746.0,1747.6 749.0,1770.7 752.0,1754.7 755.0,1738.9 758.0,1752.9 761.0,1759.0 764.0,1753.1 767.0,1748.5 770.0,1728.5 773.0,1745.9 776.0,1743.3 779.0,1757.2 782.0,1744.2 785.0,1744.3 788.0,1741.9 791.0,1745.0 794.0,1748.7 797.0,1742.8 800.0,1740.2 803.0,1737.8 806.0,1748.8 809.0,1745.4 812.0,1746.1 815.0,1737.0 818.0,1743.2 821.0,1735.5 824.0,1758.9 827.0,1761.7 830.0,1756.6 833.0,1753.4 836.0,1758.8 839.0,1743.9 842.0,1745.4 845.0,1765.2 848.0,1747.7 851.0,1755.5 854.0,1750.6 857.0,1736.6 860.0,1750.6 863.0,1762.4 866.0,1766.3 869.0,1735.9 872.0,1743.5 875.0,1751.5 878.0,1764.1 881.0,1766.2 884.0,1769.3 887.0,1770.3 890.0,1753.6 893.0,1749.2 896.0,1764.3 899.0,1755.0 902.0,1757.2 905.0,1754.2 908.0,1753.9 911.0,1764.2 914.0,1749.0 917.0,1743.1 920.0,1751.4 923.0,1757.8 926.0,1754.5 929.0,1755.8 932.0,1741.2 935.0,1750.0 938.0,1765.4 941.0,1755.4 944.0,1751.2 947.0,1765.3 950.0,1751.7 953.0,1761.9 956.0,1757.2 959.0,1757.6 962.0,1761.1 965.0,1769.0 968.0,1759.6 971.0,1741.4 974.0,1738.6 977.0,1744.7 980.0,1745.9 983.0,1752.8 986.0,1747.5 989.0,1748.9 992.0,1733.8 995.0,1746.9 998.0,1751.5 1001.0,1760.7 1004.0,1753.2 1007.0,1747.3 1010.0,1736.8 1013.0,1745.7 1016.0,1745.4 1019.0,1743.7 1022.0,1745.5 1025.0,1747.5 1028.0,1746.1 1031.0,1759.3 1034.0,1732.7 1037.0,1726.9 1040.0,1741.4 1043.0,1727.3 1046.0,1734.0 1049.0,1733.6 1052.0,1726.4 1055.0,1737.9 1058.0,1735.7 1061.0,1731.1 1064.0,1734.4 1067.0,1736.2 1070.0,1726.6 1073.0,1733.6 1076.0,1729.7 1079.0,1728.3 1082.0,1724.2 1085.0,1741.1 1088.0,1728.9 1091.0,1713.7 1094.0,1727.6 1097.0,1701.9 1100.0,1722.9 1103.0,1725.5 1106.0,1729.2 1109.0,1717.9 1112.0,1709.0 1115.0,1728.3 1118.0,1719.5 1121.0,1720.2 1124.0,1706.8 1127.0,1713.1 1130.0,1693.4 1133.0,1710.7 1136.0,1689.6 1139.0,1697.7 1142.0,1693.6 1145.0,1713.7 1148.0,1711.0 1151.0,1697.8 1154.0,1710.9 1157.0,1700.1 1160.0,1682.0 1163.0,1693.0 1166.0,1680.6 1169.0,1693.2 1172.0,1693.5 1175.0,1682.5 1178.0,1692.6 1181.0,1692.5 1184.0,1675.3 1187.0,1685.8 1190.0,1679.9 1193.0,1678.1 1196.0,1693.5 1199.0,1674.2 1202.0,1676.8 1205.0,1678.9 1208.0,1683.7 1211.0,1684.8 1214.0,1670.3 1217.0,1687.6 1220.0,1690.1 1223.0,1690.3 1226.0,1674.6 1229.0,1668.6 1232.0,1664.0 1235.0,1675.7 1238.0,1672.8 1241.0,1672.9 1244.0,1667.0 1247.0,1652.0 1250.0,1663.4 1253.0,1658.2 1256.0,1651.6 1259.0,1643.9 1262.0,1653.3 1265.0,1653.8 1268.0,1644.6 1271.0,1646.6 1274.0,1620.5 1277.0,1616.0 1280.0,1612.0 1283.0,1595.0 1286.0,1555.4 1289.0,1527.8 1292.0,1492.8 1295.0,1465.7 1298.0,1447.0 1301.0,1432.2 1304.0,1437.4 1307.0,1443.8 1310.0,1481.1 1313.0,1510.1 1316.0,1535.4 1319.0,1574.4 1322.0,1608.2 1325.0,1614.0 1328.0,1641.3 1331.0,1653.6 1334.0,1666.5 1337.0,1684.6 1340.0,1664.2 1343.0,1688.6 1346.0,1685.0 1349.0,1693.7 1352.0,1697.4 1355.0,1712.8 1358.0,1700.9 1361.0,1702.3 1364.0,1706.7 1367.0,1682.5 1370.0,1717.4 1373.0,1690.3 1376.0,1697.7 1379.0,1708.3 1382.0,1691.9 1385.0,1686.6 1388.0,1707.8 1391.0,1693.3 1394.0,1701.0 1397.0,1696.1 1400.0,1689.9 1403.0,1703.9 1406.0,1682.9 1409.0,1692.8 1412.0,1666.9 1415.0,1666.8 1418.0,1670.4 1421.0,1678.5 1424.0,1667.6 1427.0,1671.1 1430.0,1688.3 1433.0,1678.2 1436.0,1688.6 1439.0,1687.4 1442.0,1684.3 1445.0,1686.5 1448.0,1698.2 1451.0,1703.0 1454.0,1706.5 1457.0,1712.7 1460.0,1733.6 1463.0,1734.4 1466.0,1731.2 1469.0,1727.8 1472.0,1728.5 1475.0,1749.2 1478.0,1729.9 1481.0,1754.7 1484.0,1732.5 1487.0,1727.4 1490.0,1756.9 1493.0,1741.2 1496.0,1755.8 1499.0,1748.7 1502.0,1744.6 1505.0,1754.7 1508.0,1744.6 1511.0,1749.0 1514.0,1742.7 1517.0,1728.3 1520.0,1745.0 1523.0,1738.0 1526.0,1741.9 1529.0,1747.2 1532.0,1733.1 1535.0,1748.8 1538.0,1749.1 1541.0,1759.8 1544.0,1751.0 1547.0,1747.2 1550.0,1740.0 1553.0,1746.2 1556.0,1736.4 1559.0,1751.7 1562.0,1747.7 1565.0,1745.8 1568.0,1745.2 1571.0,1745.1 1574.0,1744.0 1577.0,1739.7 1580.0,1748.4 1583.0,1745.2 1586.0,1748.2 1589.0,1746.0 1592.0,1738.8 1595.0,1748.6 1598.0,1743.7 1601.0,1740.3 1604.0,1748.4 1607.0,1753.8 1610.0,1753.0 1613.0,1750.1 1616.0,1744.0 1619.0,1746.6 1622.0,1748.4 1625.0,1738.3 1628.0,1756.1 1631.0,1750.4 1634.0,1739.4 1637.0,1761.2 1640.0,1764.5 1643.0,1738.7 1646.0,1747.3 1649.0,1741.9 1652.0,1754.5 1655.0,1737.5 1658.0,1752.4 1661.0,1752.0 1664.0,1758.2 1667.0,1735.1 1670.0,1744.7 1673.0,1749.7 1676.0,1759.4 1679.0,1752.9 1682.0,1758.3 1685.0,1755.9 1688.0,1745.0 1691.0,1750.9 1694.0,1748.4 1697.0,1748.6 1700.0,1743.5 1703.0,1756.3 1706.0,1752.4 1709.0,1734.5 1712.0,1755.1 1715.0,1744.4 1718.0,1736.8 1721.0,1757.7 1724.0,1747.6 1727.0,1750.2 1730.0,1746.0 1733.0,1746.7 1736.0,1732.6 1739.0,1753.0 1742.0,1741.6 1745.0,1748.1 1748.0,1747.9 1751.0,1741.6 1754.0,1740.0 1757.0,1749.2 1760.0,1760.9 1763.0,1745.8 1766.0,1746.2 1769.0,1751.7 1772.0,1746.4 1775.0,1761.4 1778.0,1754.7 1781.0,1770.9 1784.0,1752.7 1787.0,1768.7 1790.0,1746.4 1793.0,1752.9 1796.0,1742.7 1799.0,1748.1 1802.0,1748.7 1805.0,1756.1 1808.0,1762.1 1811.0,1749.3 1814.0,1739.9 1817.0,1751.5 1820.0,1750.2 1823.0,1747.7 1826.0,1758.5 1829.0,1760.8 1832.0,1746.3 1835.0,1746.3 1838.0,1731.4 1841.0,1747.2 1844.0,1758.9 1847.0,1745.1 1850.0,1759.8 1853.0,1758.2 1856.0,1757.9 1859.0,1758.3 1862.0,1752.9 1865.0,1761.9 1868.0,1762.4 1871.0,1757.0 1874.0,1754.1 1877.0,1764.9 1880.0,1766.7 1883.0,1749.9 1886.0,1761.7 1889.0,1755.6 1892.0,1773.9 1895.0,1752.7 1898.0,1750.3 1901.0,1747.9 1904.0,1762.4 1907.0,1746.5 1910.0,1759.9 1913.0,1750.5 1916.0,1765.1 1919.0,1766.7 1922.0,1763.1 1925.0,1738.2 1928.0,1741.9 1931.0,1731.8 1934.0,1774.1 1937.0,1748.2 1940.0,1749.5 1943.0,1753.0 1946.0,1757.3 1949.0,1749.8 1952.0,1752.9 1955.0,1752.3 1958.0,1742.0 1961.0,1766.8 1964.0,1766.2 1967.0,1752.6 1970.0,1751.3 1973.0,1767.4 1976.0,1771.9 1979.0,1752.8 1982.0,1757.3 1985.0,1749.2 1988.0,1755.1 1991.0,1732.1 1994.0,1734.5 1997.0,1756.1 2000.0,1751.0 2003.0,1755.7 2006.0,1753.1 2009.0,1757.3 2012.0,1754.6 2015.0,1751.0 2018.0,1755.6 2021.0,1746.7 2024.0,1763.0 2027.0,1743.6 2030.0,1747.8 2033.0,1757.8 2036.0,1747.2 2039.0,1757.4 2042.0,1761.0 2045.0,1754.9 2048.0,1744.4 2051.0,1762.4 2054.0,1750.0 2057.0,1737.9 2060.0,1761.1 2063.0,1746.0 2066.0,1749.1 2069.0,1751.4 2072.0,1740.2 2075.0,1751.7 2078.0,1734.9 2081.0,1737.3 2084.0,1742.4 2087.0,1763.4 2090.0,1751.1 2093.0,1756.0 2096.0,1743.5 2099.0,1751.5 2102.0,1730.5 2105.0,1745.6 2108.0,1751.3 2111.0,1743.5 2114.0,1732.4 2117.0,1735.3 2120.0,1753.6 2123.0,1759.3 2126.0,1745.5 2129.0,1761.3 2132.0,1737.9 2135.0,1753.1 2138.0,1750.3 2141.0,1756.1 2144.0,1735.4 2147.0,1755.2 2150.0,1748.0 2153.0,1740.0 2156.0,1743.3 2159.0,1745.1 2162.0,1749.1 2165.0,1740.0 2168.0,1739.9 2171.0,1747.5 2174.0,1746.5 2177.0,1750.8 2180.0,1754.0 2183.0,1731.8 2186.0,1746.0 2189.0,1748.7 2192.0,1747.3 2195.0,1738.5 2198.0,1753.1 2201.0,1761.3 2204.0,1746.3 2207.0,1741.5 2210.0,1754.2 2213.0,1748.1 2216.0,1748.8 2219.0,1749.4 2222.0,1743.7 2225.0,1746.9 2228.0,1740.8 2231.0,1730.4 2234.0,1754.1 2237.0,1747.7 2240.0,1744.5 2243.0,1755.6 2246.0,1743.2 2249.0,1753.1 2252.0,1750.4 2255.0,1741.1 2258.0,1733.0 2261.0,1746.6 2264.0,1744.3 2267.0,1750.3" fill="none" stroke="#000" stroke-width="4.0" stroke-linejoin="round" shape-rendering="crispEdges"/>
<path d="M428.0,2525.5 430.0,2531.6 432.0,2533.0 434.0,2533.4 436.0,2532.2 438.0,2532.9 440.0,2521.3 442.0,2529.8 444.0,2528.0 446.0,2524.0 448.0,2530.9 450.0,2528.4 452.0,2524.8 454.0,2523.5 456.0,2530.7 458.0,2517.9 460.0,2528.1 462.0,2523.1 464.0,2528.0 466.0,2535.1 468.0,2530.6 470.0,2525.2 472.0,2531.4 474.0,2532.5 476.0,2528.1 478.0,2531.3 480.0,2523.8 482.0,2525.4 484.0,2522.1 486.0,2520.6 488.0,2522.3 490.0,2518.7 492.0,2521.6 494.0,2531.5 496.0,2524.9 498.0,2521.0 500.0,2529.2 502.0,2527.9 504.0,2516.9 506.0,2518.4 508.0,2528.9 510.0,2521.6 512.0,2521.8 514.0,2518.4 516.0,2515.5 518.0,2524.8 520.0,2515.7 522.0,2520.9 524.0,2526.0 526.0,2519.5 528.0,2515.5 530.0,2518.4 532.0,2517.4 534.0,2512.3 536.0,2514.7 538.0,2507.7 540.0,2504.8 542.0,2509.5 544.0,2503.6 546.0,2507.9 548.0,2509.6 550.0,2510.3 552.0,2517.1 554.0,2504.4 556.0,2505.9 558.0,2505.4 560.0,2502.6 562.0,2515.4 564.0,2502.8 566.0,2504.8 568.0,2504.8 570.0,2515.9 572.0,2503.7 574.0,2501.5 576.0,2510.1 578.0,2501.6 580.0,2495.1 582.0,2509.1 584.0,2508.0 586.0,2497.5 588.0,2498.2 590.0,2503.2 592.0,2498.9 594.0,2496.3 596.0,2497.4 598.0,2510.2 600.0,2506.9 602.0,2497.2 604.0,2500.9 606.0,2501.8 608.0,2499.5 610.0,2500.5 612.0,2508.1 614.0,2497.3 616.0,2496.3 618.0,2499.2 620.0,2496.0 622.0,2496.7 624.0,2496.3 626.0,2493.4 628.0,2502.6 630.0,2493.9 632.0,2502.1 634.0,2492.0 636.0,2491.2 638.0,2495.7 640.0,2492.9 642.0,2497.3 644.0,2496.0 646.0,2502.7 648.0,2479.0 650.0,2487.0 652.0,2491.0 654.0,2489.9 656.0,2490.3 658.0,2501.6 660.0,2479.8 662.0,2492.4 664.0,2488.0 666.0,2488.4 668.0,2492.5 670.0,2486.3 672.0,2487.8 674.0,2487.6 676.0,2485.1 678.0,2470.4 680.0,2474.9 682.0,2471.2 684.0,2472.9 686.0,2474.9 688.0,2484.4 690.0,2471.9 692.0,2473.0 694.0,2473.1 696.0,2480.0 698.0,2470.4 700.0,2474.4 702.0,2475.4 704.0,2473.6 706.0,2461.3 708.0,2463.5 710.0,2471.3 712.0,2459.3 714.0,2465.0 716.0,2458.1 718.0,2465.3 720.0,2462.1 722.0,2454.3 724.0,2459.0 726.0,2454.3 728.0,2455.7 730.0,2463.0 732.0,2458.1 734.0,2458.0 736.0,2462.9 738.0,2456.2 740.0,2461.2 742.0,2456.9 744.0,2456.1 746.0,2453.0 748.0,2450.7 750.0,2449.6 752.0,2449.8 754.0,2455.9 756.0,2455.2 758.0,2449.4 760.0,2458.2 762.0,2449.6 764.0,2450.2 766.0,2445.5 768.0,2447.3 770.0,2454.4 772.0,2452.0 774.0,2446.8 776.0,2454.5 778.0,2448.4 780.0,2448.6 782.0,2452.5 784.0,2449.6 786.0,2445.9 788.0,2442.5 790.0,2452.7 792.0,2436.5 794.0,2444.0 796.0,2438.9 798.0,2443.9 800.0,2450.1 802.0,2444.8 804.0,2444.3 806.0,2445.9 808.0,2454.6 810.0,2452.0 812.0,2446.9 814.0,2443.1 816.0,2444.2 818.0,2447.5 820.0,2445.1 822.0,2445.8 824.0,2442.0 826.0,2440.9 828.0,2442.4 830.0,2448.5 832.0,2443.7 834.0,2459.1 836.0,2450.7 838.0,2451.4 840.0,2453.0 842.0,2444.2 844.0,2443.6 846.0,2447.7 848.0,2451.2 850.0,2451.0 852.0,2455.7 854.0,2454.5 856.0,2452.8 858.0,2453.1 860.0,2449.2 862.0,2451.7 864.0,2446.6 866.0,2446.0 868.0,2451.9 870.0,2440.6 872.0,2453.9 874.0,2456.1 876.0,2446.2 878.0,2451.9 880.0,2449.8 882.0,2445.1 884.0,2451.4 886.0,2452.3 888.0,2454.6 890.0,2448.9 892.0,2450.9 894.0,2447.6 896.0,2454.4 898.0,2449.5 900.0,2453.4 902.0,2446.5 904.0,2449.6 906.0,2444.9 908.0,2445.3 910.0,2453.0 912.0,2447.0 914.0,2447.0 916.0,2450.1 918.0,2442.8 920.0,2454.2 922.0,2441.7 924.0,2442.7 926.0,2453.2 928.0,2435.6 930.0,2450.0 932.0,2443.4 934.0,2443.3 936.0,2435.8 938.0,2440.3 940.0,2433.3 942.0,2442.3 944.0,2436.2 946.0,2433.7 948.0,2433.8 950.0,2434.8 952.0,2439.4 954.0,2436.6 956.0,2431.7 958.0,2431.3 960.0,2430.6 962.0,2438.5 964.0,2437.1 966.0,2430.2 968.0,2428.0 970.0,2434.7 972.0,2432.5 974.0,2437.2 976.0,2434.4 978.0,2436.4 980.0,2438.0 982.0,2438.6 984.0,2432.7 986.0,2436.2 988.0,2430.1 990.0,2426.8 992.0,2432.5 994.0,2436.2 996.0,2436.8 998.0,2430.1 1000.0,2422.7 1002.0,2431.4 1004.0,2428.9 1006.0,2432.4 1008.0,2434.2 1010.0,2427.5 1012.0,2426.1 1014.0,2427.3 1016.0,2425.8 1018.0,2424.1 1020.0,2428.8 1022.0,2424.0 1024.0,2425.0 1026.0,2423.7 1028.0,2421.3 1030.0,2425.3 1032.0,2419.4 1034.0,2419.9 1036.0,2422.5 1038.0,2417.5 1040.0,2411.1 1042.0,2414.6 1044.0,2414.0 1046.0,2418.2 1048.0,2422.0 1050.0,2415.2 1052.0,2413.3 1054.0,2419.6 1056.0,2409.7 1058.0,2413.4 1060.0,2413.4 1062.0,2410.4 1064.0,2408.9 1066.0,2409.5 1068.0,2414.3 1070.0,2409.1 1072.0,2403.1 1074.0,2405.8 1076.0,2407.6 1078.0,2410.0 1080.0,2404.9 1082.0,2401.3 1084.0,2405.6 1086.0,2402.6 1088.0,2398.7 1090.0,2394.5 1092.0,2396.9 1094.0,2399.9 1096.0,2390.4 1098.0,2387.4 1100.0,2395.6 1102.0,2385.9 1104.0,2386.0 1106.0,2389.6 1108.0,2388.3 1110.0,2388.4 1112.0,2387.7 1114.0,2388.0 1116.0,2384.0 1118.0,2379.6 1120.0,2369.8 1122.0,2386.0 1124.0,2382.8 1126.0,2380.9 1128.0,2376.9 1130.0,2372.1 1132.0,2376.7 1134.0,2373.2 1136.0,2366.5 1138.0,2375.5 1140.0,2363.9 1142.0,2366.9 1144.0,2375.0 1146.0,2362.7 1148.0,2365.6 1150.0,2367.9 1152.0,2361.9 1154.0,2354.3 1156.0,2356.6 1158.0,2357.0 1160.0,2349.3 1162.0,2360.4 1164.0,2354.4 1166.0,2354.9 1168.0,2351.9 1170.0,2351.4 1172.0,2347.4 1174.0,2341.7 1176.0,2350.1 1178.0,2346.6 1180.0,2352.4 1182.0,2340.0 1184.0,2344.9 1186.0,2352.8 1188.0,2337.1 1190.0,2337.0 1192.0,2342.4 1194.0,2348.0 1196.0,2334.9 1198.0,2339.5 1200.0,2337.8 1202.0,2335.6 1204.0,2336.4 1206.0,2342.2 1208.0,2337.1 1210.0,2330.5 1212.0,2333.3 1214.0,2336.1 1216.0,2329.6 1218.0,2332.5 1220.0,2333.6 1222.0,2326.2 1224.0,2343.0 1226.0,2327.9 1228.0,2334.9 1230.0,2333.5 1232.0,2331.0 1234.0,2336.7 1236.0,2328.7 1238.0,2321.7 1240.0,2327.8 1242.0,2323.5 1244.0,2315.3 1246.0,2311.8 1248.0,2320.5 1250.0,2313.8 1252.0,2307.0 1254.0,2315.1 1256.0,2306.2 1258.0,2309.0 1260.0,2307.9 1262.0,2303.6 1264.0,2302.4 1266.0,2309.1 1268.0,2295.8 1270.0,2286.0 1272.0,2274.8 1274.0,2274.4 1276.0,2256.9 1278.0,2242.7 1280.0,2213.9 1282.0,2199.1 1284.0,2160.5 1286.0,2131.0 1288.0,2104.6 1290.0,2084.9 1292.0,2055.8 1294.0,2035.7 1296.0,2030.1 1298.0,2016.6 1300.0,2018.0 1302.0,2037.2 1304.0,2055.2 1306.0,2066.1 1308.0,2086.8 1310.0,2129.5 1312.0,2153.0 1314.0,2182.9 1316.0,2203.1 1318.0,2233.5 1320.0,2255.9 1322.0,2268.9 1324.0,2281.7 1326.0,2310.5 1328.0,2324.0 1330.0,2329.4 1332.0,2337.8 1334.0,2345.3 1336.0,2350.9 1338.0,2359.1 1340.0,2362.3 1342.0,2364.6 1344.0,2373.4 1346.0,2369.7 1348.0,2375.2 1350.0,2367.9 1352.0,2373.2 1354.0,2379.0 1356.0,2373.8 1358.0,2367.6 1360.0,2381.2 1362.0,2381.5 1364.0,2378.7 1366.0,2381.1 1368.0,2379.8 1370.0,2383.3 1372.0,2386.5 1374.0,2382.1 1376.0,2378.8 1378.0,2375.5 1380.0,2376.0 1382.0,2373.8 1384.0,2379.5 1386.0,2370.2 1388.0,2371.5 1390.0,2374.4 1392.0,2372.3 1394.0,2369.1 1396.0,2362.8 1398.0,2361.9 1400.0,2351.4 1402.0,2347.3 1404.0,2344.2 1406.0,2346.4 1408.0,2346.8 1410.0,2336.6 1412.0,2335.6 1414.0,2337.4 1416.0,2347.5 1418.0,2342.1 1420.0,2343.2 1422.0,2342.9 1424.0,2350.8 1426.0,2357.7 1428.0,2355.7 1430.0,2353.8 1432.0,2365.0 1434.0,2361.6 1436.0,2372.0 1438.0,2363.1 1440.0,2370.8 1442.0,2376.5 1444.0,2371.7 1446.0,2383.6 1448.0,2389.9 1450.0,2390.8 1452.0,2397.1 1454.0,2399.9 1456.0,2399.4 1458.0,2409.9 1460.0,2407.0 1462.0,2411.8 1464.0,2412.2 1466.0,2420.1 1468.0,2417.0 1470.0,2418.6 1472.0,2413.0 1474.0,2422.5 1476.0,2429.7 1478.0,2418.3 1480.0,2430.7 1482.0,2430.5 1484.0,2424.4 1486.0,2430.8 1488.0,2436.7 1490.0,2432.4 1492.0,2433.6 1494.0,2436.4 1496.0,2429.7 1498.0,2434.4 1500.0,2424.9 1502.0,2426.3 1504.0,2436.2 1506.0,2436.1 1508.0,2434.8 1510.0,2425.1 1512.0,2431.5 1514.0,2429.5 1516.0,2442.4 1518.0,2429.3 1520.0,2430.2 1522.0,2433.7 1524.0,2438.2 1526.0,2434.9 1528.0,2436.6 1530.0,2439.7 1532.0,2439.1 1534.0,2431.5 1536.0,2434.6 1538.0,2447.4 1540.0,2441.1 1542.0,2449.1 1544.0,2448.0 1546.0,2446.9 1548.0,2442.9 1550.0,2449.5 1552.0,2441.4 1554.0,2453.2 1556.0,2446.5 1558.0,2446.9 1560.0,2443.0 1562.0,2443.8 1564.0,2444.7 1566.0,2444.5 1568.0,2444.2 1570.0,2444.1 1572.0,2446.5 1574.0,2448.5 1576.0,2450.0 1578.0,2448.2 1580.0,2446.9 1582.0,2450.2 1584.0,2455.1 1586.0,2448.6 1588.0,2452.5 1590.0,2450.1 1592.0,2449.2 1594.0,2446.4 1596.0,2452.1 1598.0,2445.7 1600.0,2445.1 1602.0,2451.1 1604.0,2454.0 1606.0,2454.0 1608.0,2453.9 1610.0,2449.3 1612.0,2450.3 1614.0,2455.9 1616.0,2460.2 1618.0,2440.1 1620.0,2456.9 1622.0,2452.9 1624.0,2451.8 1626.0,2449.0 1628.0,2449.4 1630.0,2447.0 1632.0,2453.3 1634.0,2448.0 1636.0,2451.3 1638.0,2445.7 1640.0,2457.2 1642.0,2455.0 1644.0,2447.1 1646.0,2454.0 1648.0,2450.4 1650.0,2448.3 1652.0,2452.3 1654.0,2455.6 1656.0,2458.4 1658.0,2453.0 1660.0,2456.6 1662.0,2454.2 1664.0,2453.8 1666.0,2454.7 1668.0,2444.3 1670.0,2447.9 1672.0,2455.5 1674.0,2443.0 1676.0,2444.8 1678.0,2456.2 1680.0,2443.6 1682.0,2448.4 1684.0,2449.1 1686.0,2447.0 1688.0,2452.7 1690.0,2453.0 1692.0,2447.0 1694.0,2458.1 1696.0,2447.9 1698.0,2450.2 1700.0,2452.2 1702.0,2454.3 1704.0,2449.2 1706.0,2455.3 1708.0,2445.1 1710.0,2452.3 1712.0,2450.3 1714.0,2450.7 1716.0,2452.8 1718.0,2453.4 1720.0,2448.4 1722.0,2450.9 1724.0,2443.5 1726.0,2447.4 1728.0,2452.2 1730.0,2444.5 1732.0,2445.5 1734.0,2446.3 1736.0,2449.5 1738.0,2447.5 1740.0,2445.0 1742.0,2441.3 1744.0,2446.4 1746.0,2433.0 1748.0,2446.9 1750.0,2441.8 1752.0,2447.7 1754.0,2444.6 1756.0,2450.5 1758.0,2442.2 1760.0,2439.1 1762.0,2451.1 1764.0,2449.8 1766.0,2451.6 1768.0,2457.2 1770.0,2448.5 1772.0,2455.2 1774.0,2456.2 1776.0,2457.1 1778.0,2444.1 1780.0,2453.3 1782.0,2449.7 1784.0,2451.7 1786.0,2449.3 1788.0,2451.4 1790.0,2456.8 1792.0,2460.1 1794.0,2455.8 1796.0,2447.7 1798.0,2458.2 1800.0,2447.7 1802.0,2451.4 1804.0,2457.8 1806.0,2450.5 1808.0,2456.1 1810.0,2451.9 1812.0,2448.2 1814.0,2454.0 1816.0,2450.8 1818.0,2460.6 1820.0,2460.9 1822.0,2459.8 1824.0,2448.9 1826.0,2461.2 1828.0,2454.5 1830.0,2455.4 1832.0,2454.1 1834.0,2450.9 1836.0,2453.8 1838.0,2457.0 1840.0,2459.8 1842.0,2455.7 1844.0,2453.3 1846.0,2451.2 1848.0,2451.9 1850.0,2460.1 1852.0,2456.2 1854.0,2454.2 1856.0,2446.3 1858.0,2445.8 1860.0,2456.1 1862.0,2455.9 1864.0,2458.0 1866.0,2454.1 1868.0,2450.5 1870.0,2446.0 1872.0,2449.3 1874.0,2443.4 1876.0,2454.5 1878.0,2455.3 1880.0,2459.1 1882.0,2445.5 1884.0,2447.2 1886.0,2455.8 1888.0,2454.6 1890.0,2444.7 1892.0,2450.2 1894.0,2453.6 1896.0,2451.6 1898.0,2454.8 1900.0,2453.3 1902.0,2450.8 1904.0,2454.8 1906.0,2452.9 1908.0,2458.1 1910.0,2447.0 1912.0,2452.2 1914.0,2450.3 1916.0,2452.1 1918.0,2454.9 1920.0,2455.9 1922.0,2444.0 1924.0,2458.1 1926.0,2455.5 1928.0,2455.4 1930.0,2453.5 1932.0,2457.2 1934.0,2454.9 1936.0,2445.5 1938.0,2450.3 1940.0,2452.1 1942.0,2451.6 1944.0,2451.3 1946.0,2455.8 1948.0,2448.4 1950.0,2450.0 1952.0,2448.9 1954.0,2453.0 1956.0,2455.0 1958.0,2449.3 1960.0,2454.8 1962.0,2450.8 1964.0,2459.1 1966.0,2443.5 1968.0,2453.0 1970.0,2457.9 1972.0,2451.4 1974.0,2448.2 1976.0,2449.1 1978.0,2455.2 1980.0,2450.4 1982.0,2457.2 1984.0,2452.9 1986.0,2450.2 1988.0,2450.7 1990.0,2454.5 1992.0,2456.8 1994.0,2448.9 1996.0,2447.2 1998.0,2447.2 2000.0,2454.2 2002.0,2459.9 2004.0,2449.8 2006.0,2454.9 2008.0,2450.2 2010.0,2455.9 2012.0,2445.5 2014.0,2454.3 2016.0,2446.1 2018.0,2448.0 2020.0,2453.0 2022.0,2450.5 2024.0,2451.1 2026.0,2453.6 2028.0,2452.1 2030.0,2457.6 2032.0,2454.3 2034.0,2447.3 2036.0,2450.5 2038.0,2448.2 2040.0,2448.6 2042.0,2457.5 2044.0,2445.5 2046.0,2453.2 2048.0,2452.9 2050.0,2456.8 2052.0,2443.9 2054.0,2443.9 2056.0,2443.3 2058.0,2439.9 2060.0,2448.6 2062.0,2449.0 2064.0,2430.2 2066.0,2438.3 2068.0,2444.5 2070.0,2434.7 2072.0,2436.0 2074.0,2439.1 2076.0,2438.9 2078.0,2438.4 2080.0,2438.9 2082.0,2447.8 2084.0,2430.4 2086.0,2438.9 2088.0,2436.8 2090.0,2444.2 2092.0,2443.9 2094.0,2450.6 2096.0,2450.3 2098.0,2460.5 2100.0,2444.8 2102.0,2448.3 2104.0,2454.1 2106.0,2448.6 2108.0,2450.8 2110.0,2443.4 2112.0,2453.0 2114.0,2449.2 2116.0,2452.1 2118.0,2445.5 2120.0,2447.0 2122.0,2445.5 2124.0,2456.3 2126.0,2441.3 2128.0,2450.6 2130.0,2449.7 2132.0,2453.9 2134.0,2449.4 2136.0,2443.5 2138.0,2449.9 2140.0,2439.9 2142.0,2451.8 2144.0,2446.5 2146.0,2443.5 2148.0,2444.4 2150.0,2448.9 2152.0,2438.9 2154.0,2453.4 2156.0,2442.8 2158.0,2452.4 2160.0,2446.4 2162.0,2453.8 2164.0,2440.1 2166.0,2449.1 2168.0,2444.8 2170.0,2442.2 2172.0,2448.6 2174.0,2443.8 2176.0,2441.5 2178.0,2443.7 2180.0,2441.2 2182.0,2443.6 2184.0,2444.4 2186.0,2449.4 2188.0,2444.5 2190.0,2441.8 2192.0,2448.8 2194.0,2444.3 2196.0,2442.1 2198.0,2441.5 2200.0,2454.9 2202.0,2447.2 2204.0,2455.1 2206.0,2444.1 2208.0,2444.0 2210.0,2456.3 2212.0,2447.7 2214.0,2448.0 2216.0,2447.7 2218.0,2444.0 2220.0,2452.7 2222.0,2442.7 2224.0,2451.0 2226.0,2442.6 2228.0,2458.4 2230.0,2449.7 2232.0,2451.0 2234.0,2438.3 2236.0,2446.9 2238.0,2442.2 2240.0,2440.8 2242.0,2440.7 2244.0,2447.6 2246.0,2443.9 2248.0,2441.2 2250.0,2440.5 2252.0,2440.0 2254.0,2440.1 2256.0,2440.9 2258.0,2436.8 2260.0,2437.5 2262.0,2431.5 2264.0,2440.7 2266.0,2443.0 2268.0,2438.1" fill="none" stroke="#000" stroke-width="4.0" stroke-linejoin="round" shape-rendering="crispEdges"/>
<path d="M691.2,62.0L691.2,94.5M954.4,62.0L954.4,94.5M1217.6,62.0L1217.6,94.5M1480.9,62.0L1480.9,94.5M1744.1,62.0L1744.1,94.5M2007.3,62.0L2007.3,94.5M559.6,62.0L559.6,78.5M822.8,62.0L822.8,78.5M1086.0,62.0L1086.0,78.5M1349.2,62.0L1349.2,78.5M1612.5,62.0L1612.5,78.5M1875.7,62.0L1875.7,78.5M2138.9,62.0L2138.9,78.5M691.2,697.0L691.2,664.5M954.4,697.0L954.4,664.5M1217.6,697.0L1217.6,664.5M1480.9,697.0L1480.9,664.5M1744.1,697.0L1744.1,664.5M2007.3,697.0L2007.3,664.5M559.6,697.0L559.6,680.5M822.8,697.0L822.8,680.5M1086.0,697.0L1086.0,680.5M1349.2,697.0L1349.2,680.5M1612.5,697.0L1612.5,680.5M1875.7,697.0L1875.7,680.5M2138.9,697.0L2138.9,680.5M691.2,1332.5L691.2,1300.0M954.4,1332.5L954.4,1300.0M1217.6,1332.5L1217.6,1300.0M1480.9,1332.5L1480.9,1300.0M1744.1,1332.5L1744.1,1300.0M2007.3,1332.5L2007.3,1300.0M559.6,1332.5L559.6,1316.0M822.8,1332.5L822.8,1316.0M1086.0,1332.5L1086.0,1316.0M1349.2,1332.5L1349.2,1316.0M1612.5,1332.5L1612.5,1316.0M1875.7,1332.5L1875.7,1316.0M2138.9,1332.5L2138.9,1316.0M691.2,1967.3L691.2,1934.8M954.4,1967.3L954.4,1934.8M1217.6,1967.3L1217.6,1934.8M1480.9,1967.3L1480.9,1934.8M1744.1,1967.3L1744.1,1934.8M2007.3,1967.3L2007.3,1934.8M559.6,1967.3L559.6,1950.8M822.8,1967.3L822.8,1950.8M1086.0,1967.3L1086.0,1950.8M1349.2,1967.3L1349.2,1950.8M1612.5,1967.3L1612.5,1950.8M1875.7,1967.3L1875.7,1950.8M2138.9,1967.3L2138.9,1950.8M691.2,2602.5L691.2,2570.0M954.4,2602.5L954.4,2570.0M1217.6,2602.5L1217.6,2570.0M1480.9,2602.5L1480.9,2570.0M1744.1,2602.5L1744.1,2570.0M2007.3,2602.5L2007.3,2570.0M559.6,2602.5L559.6,2586.0M822.8,2602.5L822.8,2586.0M1086.0,2602.5L1086.0,2586.0M1349.2,2602.5L1349.2,2586.0M1612.5,2602.5L1612.5,2586.0M1875.7,2602.5L1875.7,2586.0M2138.9,2602.5L2138.9,2586.0M428.0,529.9L460.5,529.9M2270.5,529.9L2238.0,529.9M428.0,195.5L460.5,195.5M2270.5,195.5L2238.0,195.5M428.0,362.7L444.5,362.7M2270.5,362.7L2254.0,362.7M428.0,1213.6L460.5,1213.6M2270.5,1213.6L2238.0,1213.6M428.0,978.9L460.5,978.9M2270.5,978.9L2238.0,978.9M428.0,744.2L460.5,744.2M2270.5,744.2L2238.0,744.2M428.0,1096.2L444.5,1096.2M2270.5,1096.2L2254.0,1096.2M428.0,861.5L444.5,861.5M2270.5,861.5L2254.0,861.5M428.0,1722.7L460.5,1722.7M2270.5,1722.7L2238.0,1722.7M428.0,1478.5L460.5,1478.5M2270.5,1478.5L2238.0,1478.5M428.0,1844.8L444.5,1844.8M2270.5,1844.8L2254.0,1844.8M428.0,1600.6L444.5,1600.6M2270.5,1600.6L2254.0,1600.6M428.0,1356.4L444.5,1356.4M2270.5,1356.4L2254.0,1356.4M428.0,2435.0L460.5,2435.0M2270.5,2435.0L2238.0,2435.0M428.0,2100.7L460.5,2100.7M2270.5,2100.7L2238.0,2100.7M428.0,2267.8L444.5,2267.8M2270.5,2267.8L2254.0,2267.8" fill="none" stroke="#000" stroke-width="7.5" stroke-linecap="round"/>
<path d="M428.0,62.0H2270.5V2602.5H428.0ZM428.0,697.0H2270.5M428.0,1332.5H2270.5M428.0,1967.3H2270.5" fill="none" stroke="#000" stroke-width="7.5" stroke-linejoin="round" stroke-linecap="square"/>
<text transform="matrix(1.0000 0 0 1.0450 215.00 217.96)" style="font-family:'Liberation Sans',Arial,sans-serif;font-weight:bold;font-size:80px;fill:#000">2000</text>
<text transform="matrix(1.0000 0 0 1.0450 215.00 552.36)" style="font-family:'Liberation Sans',Arial,sans-serif;font-weight:bold;font-size:80px;fill:#000">1000</text>
<text transform="matrix(1.0000 0 0 1.0450 215.00 766.66)" style="font-family:'Liberation Sans',Arial,sans-serif;font-weight:bold;font-size:80px;fill:#000">3000</text>
<text transform="matrix(1.0000 0 0 1.0450 215.00 1001.06)" style="font-family:'Liberation Sans',Arial,sans-serif;font-weight:bold;font-size:80px;fill:#000">2000</text>
<text transform="matrix(1.0000 0 0 1.0450 215.00 1236.05)" style="font-family:'Liberation Sans',Arial,sans-serif;font-weight:bold;font-size:80px;fill:#000">1000</text>
<text transform="matrix(1.0000 0 0 1.0450 215.00 1501.05)" style="font-family:'Liberation Sans',Arial,sans-serif;font-weight:bold;font-size:80px;fill:#000">1500</text>
<text transform="matrix(1.0000 0 0 1.0450 215.00 1745.15)" style="font-family:'Liberation Sans',Arial,sans-serif;font-weight:bold;font-size:80px;fill:#000">1000</text>
<text transform="matrix(1.0000 0 0 1.0450 260.00 1988.95)" style="font-family:'Liberation Sans',Arial,sans-serif;font-weight:bold;font-size:80px;fill:#000">500</text>
<text transform="matrix(1.0000 0 0 1.0450 215.00 2123.15)" style="font-family:'Liberation Sans',Arial,sans-serif;font-weight:bold;font-size:80px;fill:#000">2000</text>
<text transform="matrix(1.0000 0 0 1.0450 215.00 2457.45)" style="font-family:'Liberation Sans',Arial,sans-serif;font-weight:bold;font-size:80px;fill:#000">1000</text>
<text transform="matrix(1.0000 0 0 1.0450 406.80 2700.95)" style="font-family:'Liberation Sans',Arial,sans-serif;font-weight:bold;font-size:80px;fill:#000">5</text>
<text transform="matrix(1.0000 0 0 1.0450 647.01 2700.95)" style="font-family:'Liberation Sans',Arial,sans-serif;font-weight:bold;font-size:80px;fill:#000">10</text>
<text transform="matrix(1.0000 0 0 1.0450 909.73 2700.95)" style="font-family:'Liberation Sans',Arial,sans-serif;font-weight:bold;font-size:80px;fill:#000">15</text>
<text transform="matrix(1.0000 0 0 1.0450 1174.44 2700.95)" style="font-family:'Liberation Sans',Arial,sans-serif;font-weight:bold;font-size:80px;fill:#000">20</text>
<text transform="matrix(1.0000 0 0 1.0450 1437.16 2700.95)" style="font-family:'Liberation Sans',Arial,sans-serif;font-weight:bold;font-size:80px;fill:#000">25</text>
<text transform="matrix(1.0000 0 0 1.0450 1701.37 2700.95)" style="font-family:'Liberation Sans',Arial,sans-serif;font-weight:bold;font-size:80px;fill:#000">30</text>
<text transform="matrix(1.0000 0 0 1.0450 1964.09 2700.95)" style="font-family:'Liberation Sans',Arial,sans-serif;font-weight:bold;font-size:80px;fill:#000">35</text>
<text transform="matrix(1.0000 0 0 1.0450 2228.30 2700.95)" style="font-family:'Liberation Sans',Arial,sans-serif;font-weight:bold;font-size:80px;fill:#000">40</text>
<text transform="matrix(0.9710 0 0 1.0460 2092.06 477.20)" style="font-family:'Liberation Sans',Arial,sans-serif;font-weight:bold;font-size:72px;fill:#000">5%</text>
<text transform="matrix(0.9798 0 0 1.0460 2101.96 1124.90)" style="font-family:'Liberation Sans',Arial,sans-serif;font-weight:bold;font-size:72px;fill:#000">2%</text>
<text transform="matrix(0.9732 0 0 1.0460 2098.93 1688.00)" style="font-family:'Liberation Sans',Arial,sans-serif;font-weight:bold;font-size:72px;fill:#000">1%</text>
<text transform="matrix(0.9856 0 0 1.0462 1843.87 2346.01)" style="font-family:'Liberation Sans',Arial,sans-serif;font-weight:bold;font-size:72px;fill:#000">pure LDPE</text>
<text transform="matrix(0.9869 0 0 1.0162 1372.64 333.66)" style="font-family:'Liberation Sans',Arial,sans-serif;font-weight:bold;font-size:72px;fill:#0000ff">Graphene (002)</text>
<text transform="matrix(1.0145 0 0 1.0637 1158.33 2842.90)" style="font-family:'Liberation Sans',Arial,sans-serif;font-weight:bold;font-size:130px;fill:#000">2</text>
<text transform="matrix(1.0018 0 0 0.9717 1230.99 2845.33)" style="font-family:'Liberation Serif','Times New Roman',serif;font-weight:bold;font-size:130px;fill:#000">θ</text>
<text transform="matrix(0.8892 0 0 1.0132 1327.86 2842.44)" style="font-family:'Liberation Sans',Arial,sans-serif;font-weight:bold;font-size:130px;fill:#000">(</text>
<text transform="matrix(1.0100 0 0 1.0128 1369.24 2845.10)" style="font-family:'Liberation Serif','Times New Roman',serif;font-weight:bold;font-size:130px;fill:#000">°</text>
<text transform="matrix(0.8730 0 0 1.0132 1426.00 2842.44)" style="font-family:'Liberation Sans',Arial,sans-serif;font-weight:bold;font-size:130px;fill:#000">)</text>
<text transform="matrix(1.0008 0 0 1.0262 160.98 1684.84) rotate(-90)" style="font-family:'Liberation Sans',Arial,sans-serif;font-weight:bold;font-size:130px;fill:#000">Intensity (cps)</text>
</svg></body></html>
